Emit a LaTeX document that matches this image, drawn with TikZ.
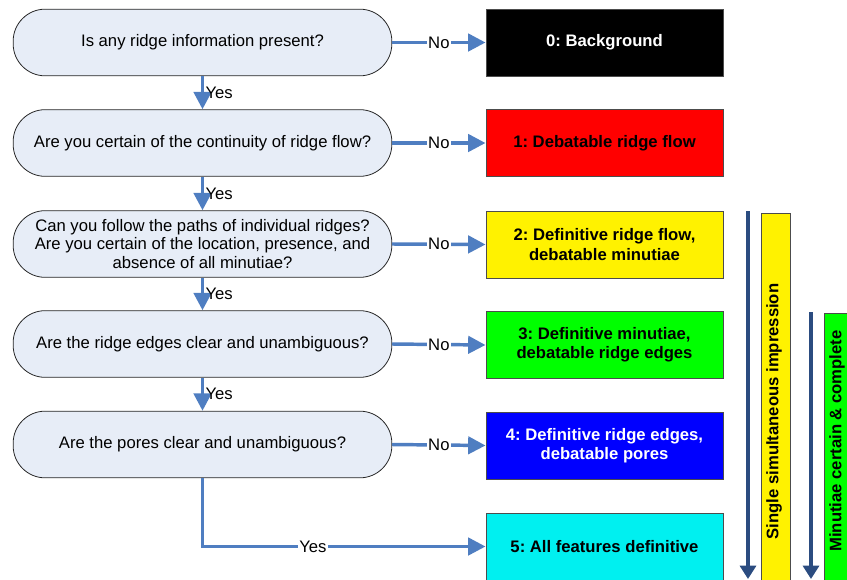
\documentclass[tikz,border=0pt]{standalone}
\usepackage{fontspec}
\setmainfont{Liberation Sans}
\usetikzlibrary{arrows.meta}
\frenchspacing
\definecolor{qfill}{HTML}{E7EDF7}
\definecolor{conn}{HTML}{4F7EC1}
\definecolor{darkarr}{HTML}{2B4C80}
\definecolor{cyanbox}{HTML}{00F0F0}
\tikzset{
  question/.style={draw=black!85, line width=0.6pt, fill=qfill, rounded corners=24pt,
    minimum width=284pt, minimum height=50pt, align=center, inner sep=2pt,
    font=\fontsize{12.5}{13.9}\selectfont},
  result/.style={draw=black!70, line width=0.5pt, minimum width=178pt, minimum height=50pt,
    align=center, font=\fontsize{12.5}{14.5}\selectfont\bfseries},
  flow/.style={draw=conn, line width=2.6pt, -{Triangle[length=13pt,width=13pt]}},
  lbl/.style={font=\fontsize{12.5}{14}\selectfont, inner sep=1pt},
  nolbl/.style={lbl, fill=white},
  bar/.style={draw=black!70, line width=0.5pt, minimum width=21.5pt, anchor=north, inner sep=0pt},
  bartext/.style={rotate=90, font=\fontsize{12.5}{14}\selectfont\bfseries},
  bigarrow/.style={draw=darkarr, line width=2.3pt, -{Triangle[length=10pt,width=12pt]}}
}
\begin{document}
\begin{tikzpicture}[x=0.75pt,y=-0.75pt]
\useasboundingbox (0,0) rectangle (847,579);
\clip (0,0) rectangle (847,579);
% questions
\node[question] (q1) at (202.5,42.5) {Is any ridge information present?};
\node[question] (q2) at (202.5,143) {Are you certain of the continuity of ridge flow?};
\node[question] (q3) at (202.5,244) {Can you follow the paths of individual ridges?\\Are you certain of the location, presence, and\\absence of all minutiae?};
\node[question] (q4) at (202.5,344) {Are the ridge edges clear and unambiguous?};
\node[question] (q5) at (202.5,444.5) {Are the pores clear and unambiguous?};
% results
\node[result, fill=black, text=white] (r0) at (604.5,42.5) {0: Background};
\node[result, fill=red, text=black] (r1) at (604.5,143) {1: Debatable ridge flow};
\node[result, fill=yellow, text=black] (r2) at (604.5,244.5) {2: Definitive ridge flow,\\debatable minutiae};
\node[result, fill=green, text=black] (r3) at (604.5,345) {3: Definitive minutiae,\\debatable ridge edges};
\node[result, fill=blue, text=white] (r4) at (604.5,445.5) {4: Definitive ridge edges,\\debatable pores};
\node[result, fill=cyanbox, text=black] (r5) at (604.5,546.5) {5: All features definitive};
% No connectors
\foreach \i/\j in {q1/r0,q2/r1,q3/r2,q4/r3,q5/r4}{
  \draw[flow] (\i.east) -- node[nolbl]{No} (\j.west);
}
% Yes connectors
\foreach \i/\j in {q1/q2,q2/q3,q3/q4,q4/q5}{
  \draw[flow] (\i.south) -- node[lbl, right]{Yes} (\j.north);
}
\coordinate (corner) at (202.5,546.5);
\draw[flow] (q5.south) -- (corner) -- node[nolbl, pos=0.39]{Yes} (r5.west);
% side bars
\coordinate (a1s) at (748,211);
\coordinate (a1e) at (748,579);
\coordinate (a2s) at (811,312);
\coordinate (a2e) at (811,579);
\draw[bigarrow] (a1s) -- (a1e);
\draw[bigarrow] (a2s) -- (a2e);
\node[bar, fill=yellow, minimum height=300pt] (b1) at (775.5,213) {};
\node[bar, fill=green, minimum height=230pt] (b2) at (838.5,313) {};
\node[bartext] (t1) at (774,411.5) {Single simultaneous impression};
\node[bartext] (t2) at (837,441) {Minutiae certain \& complete};
\end{tikzpicture}
\end{document}
